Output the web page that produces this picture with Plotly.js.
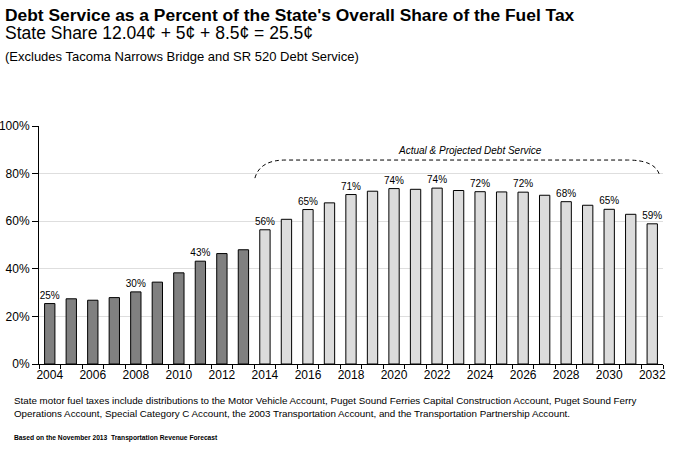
<!DOCTYPE html>
<html>
<head>
<meta charset="utf-8">
<script src="https://cdn.plot.ly/plotly-3.0.1.min.js"></script>
<style>html,body{margin:0;padding:0;background:#fff;}#chart{width:683px;height:450px;}</style>
</head>
<body>
<div id="chart"></div>
<script>
const years = [2004,2005,2006,2007,2008,2009,2010,2011,2012,2013,2014,2015,2016,2017,2018,2019,2020,2021,2022,2023,2024,2025,2026,2027,2028,2029,2030,2031,2032];
const debtPct = [25.4,27.4,26.8,27.9,30.3,34.4,38.3,43.2,46.4,48.0,56.4,60.8,64.9,67.7,71.2,72.6,73.7,73.4,73.9,72.9,72.4,72.3,72.2,70.9,68.2,66.7,65.0,62.9,58.9];
const labelYears = [2004,2008,2011,2014,2016,2018,2020,2022,2024,2026,2028,2030,2032];
const lastActualYear = 2013;

const F = '"Liberation Sans", Arial, sans-serif';
const barColors = years.map(y => y <= lastActualYear ? '#808080' : '#dcdcdc');
const barText = years.map((y,i) => labelYears.includes(y) ? Math.round(debtPct[i]) + '%' : '');

const trace = {
  type: 'bar',
  x: years,
  y: debtPct,
  width: 0.48,
  marker: {color: barColors, line: {color: '#000', width: 1}},
  text: barText,
  textposition: 'outside',
  constraintext: 'none',
  textfont: {family: F, size: 10, color: '#000'},
  cliponaxis: false,
  hoverinfo: 'x+y'
};

const layout = {
  width: 683, height: 450,
  margin: {l: 39, r: 20, t: 126, b: 86},
  paper_bgcolor: '#fff', plot_bgcolor: '#fff',
  showlegend: false,
  font: {family: F, color: '#000'},
  xaxis: {
    range: [2003.5, 2032.5],
    tickmode: 'linear', tick0: 2004, dtick: 2,
    ticks: '', showgrid: false, zeroline: false,
    showline: true, linecolor: '#000', linewidth: 1,
    tickfont: {family: F, size: 12, color: '#000'},
    minor: {tickmode: 'linear', tick0: 2003.5, dtick: 1, ticks: 'outside', ticklen: 4, tickcolor: '#000', showgrid: false}
  },
  yaxis: {
    range: [0, 100], dtick: 20, ticksuffix: '%',
    ticks: 'outside', ticklen: 6, tickcolor: '#000',
    showline: true, linecolor: '#000', linewidth: 1,
    showgrid: true, gridcolor: '#dedede', gridwidth: 1, zeroline: false,
    tickfont: {family: F, size: 12, color: '#000'}
  },
  shapes: [{
    type: 'path', xref: 'paper', yref: 'paper',
    path: 'M 0.346,0.781 Q 0.354,0.857 0.395,0.857 L 0.943,0.857 Q 0.99,0.857 0.995,0.787',
    line: {color: '#000', width: 1, dash: '4px,3px'}
  }],
  annotations: [
    {xref:'paper', yref:'paper', x:-0.058, y:1.468, xanchor:'left', yanchor:'middle', showarrow:false,
     text:"<b>Debt Service as a Percent of the State's Overall Share of the Fuel Tax</b>", font:{family:F, size:17.4, color:'#000'}},
    {xref:'paper', yref:'paper', x:-0.058, y:1.389, xanchor:'left', yanchor:'middle', showarrow:false,
     text:'State Share 12.04¢ + 5¢ + 8.5¢ = 25.5¢', font:{family:F, size:17.5, color:'#000'}},
    {xref:'paper', yref:'paper', x:-0.058, y:1.292, xanchor:'left', yanchor:'middle', showarrow:false,
     text:'(Excludes Tacoma Narrows Bridge and SR 520 Debt Service)', font:{family:F, size:13, color:'#000'}},
    {xref:'paper', yref:'paper', x:0.691, y:0.899, xanchor:'center', yanchor:'middle', showarrow:false,
     text:'<i>Actual &amp; Projected Debt Service</i>', font:{family:F, size:10, color:'#000'}},
    {xref:'paper', yref:'paper', x:-0.043, y:-0.179, xanchor:'left', yanchor:'middle', align:'left', showarrow:false,
     text:'State motor fuel taxes include distributions to the Motor Vehicle Account, Puget Sound Ferries Capital Construction Account, Puget Sound Ferry<br>Operations Account, Special Category C Account, the 2003 Transportation Account, and the Transportation Partnership Account.',
     font:{family:F, size:9.8, color:'#000'}},
    {xref:'paper', yref:'paper', x:-0.043, y:-0.313, xanchor:'left', yanchor:'middle', showarrow:false,
     text:'<b>Based on the November 2013  Transportation Revenue Forecast</b>', font:{family:F, size:6.7, color:'#000'}}
  ]
};

Plotly.newPlot('chart', [trace], layout, {displayModeBar: false, staticPlot: true});
</script>
</body>
</html>
